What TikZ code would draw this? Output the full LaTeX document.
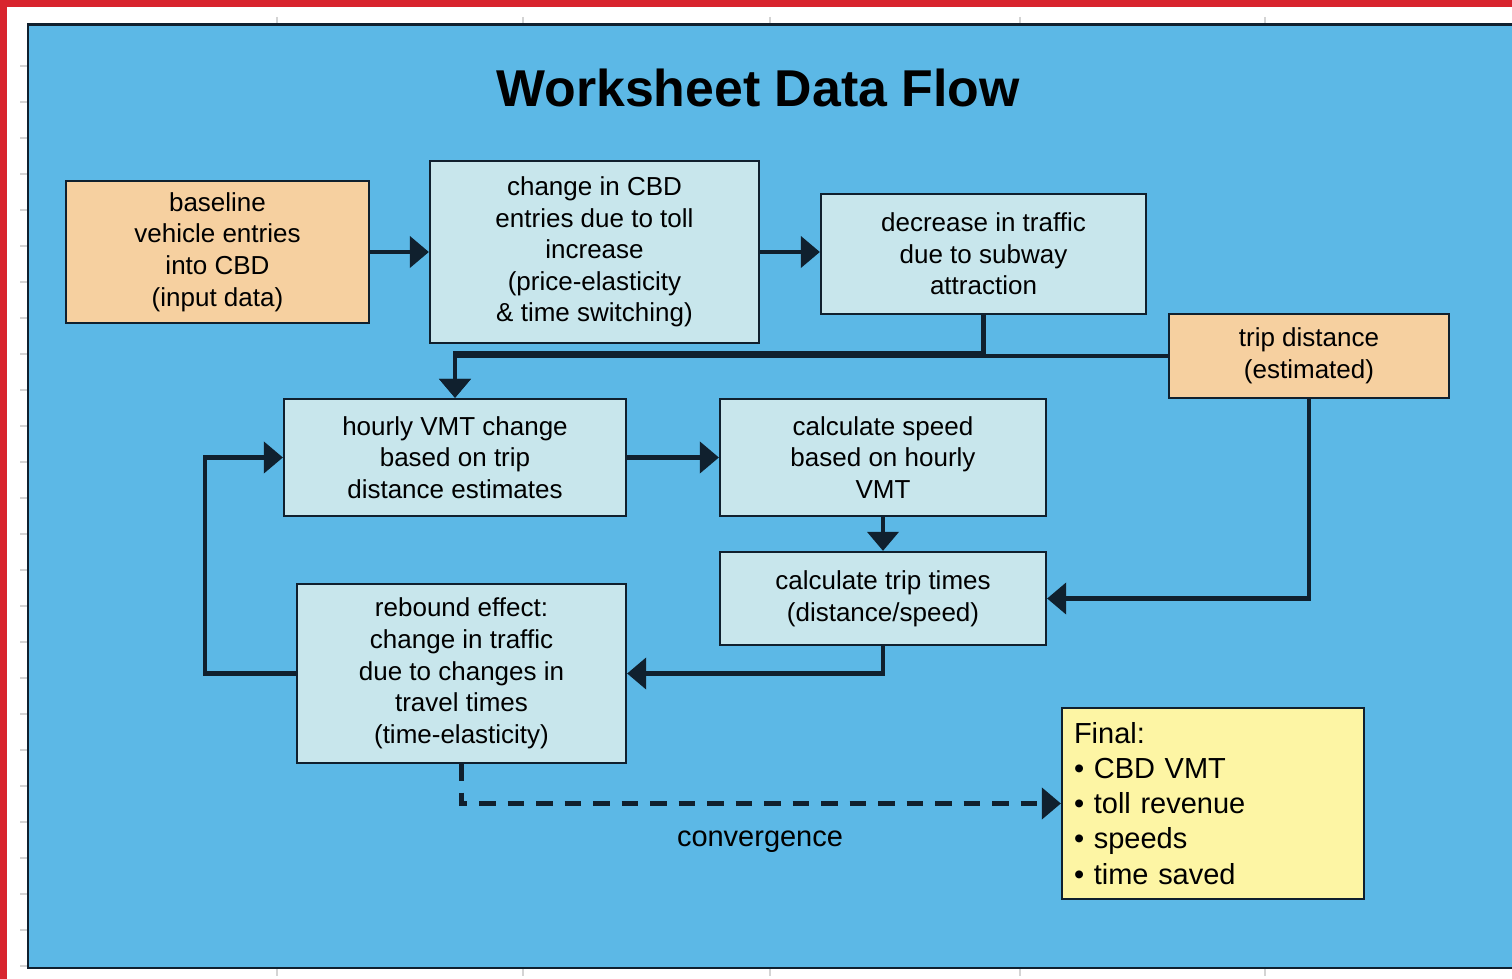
\documentclass[tikz,border=0pt]{standalone}
\usepackage{fontspec}
\setmainfont{Liberation Sans}
\usetikzlibrary{arrows.meta}

\definecolor{tlo}{HTML}{5CB8E6}
\definecolor{jasny}{HTML}{C8E6EC}
\definecolor{wejscie}{HTML}{F6D0A0}
\definecolor{wynik}{HTML}{FDF5A4}
\definecolor{ramka}{HTML}{10202E}
\definecolor{czerw}{HTML}{D8242E}
\definecolor{siatka}{HTML}{D4D4D4}

\begin{document}
\begin{tikzpicture}[
  x=0.02cm, y=-0.02cm,
  font=\fontsize{14.8}{18}\selectfont,
  blk/.style={draw=ramka, line width=1.3pt, fill=jasny, align=center, inner sep=0},
  inp/.style={blk, fill=wejscie},
  fin/.style={blk, fill=wynik, align=left, inner xsep=0.24cm,
    font=\fontsize{16.5}{20}\selectfont},
  pil/.style={draw=ramka, line width=2.3pt, -{Triangle[length=0.38cm, width=0.62cm]}},
  opis/.style={font=\fontsize{16.5}{20}\selectfont},
]
\useasboundingbox (0,0) rectangle (1512,979);
% tlo arkusza
\fill[white] (0,0) rectangle (1512,979);
\fill[czerw] (0,0) rectangle (1512,7);
\fill[czerw] (0,0) rectangle (7,979);
\foreach \yy in {66,102,...,966}
  \draw[siatka, line width=0.6pt] (20,\yy) -- (28,\yy);
\foreach \xx in {277,523,770,1020,1265} {
  \draw[siatka, line width=0.6pt] (\xx,17) -- (\xx,25);
  \draw[siatka, line width=0.6pt] (\xx,968) -- (\xx,976);
}
\fill[tlo] (28,25) rectangle (1512,968);
\draw[ramka, line width=1.7pt] (1513,25) -- (28,25) -- (28,968) -- (1513,968);

\node[font=\fontsize{29.5}{34}\selectfont\bfseries] (tytul) at (758,88) {Worksheet Data Flow};

% gorny rzad
\node[inp, minimum width=6.06cm, minimum height=2.84cm] (base) at (217.5,252)
  {baseline\\vehicle entries\\into CBD\\(input data)};
\node[blk, minimum width=6.58cm, minimum height=3.64cm] (chg) at (594.5,252)
  {change in CBD\\entries due to toll\\increase\\(price-elasticity\\\& time switching)};
\node[blk, minimum width=6.5cm, minimum height=2.4cm] (dec) at (983.5,254)
  {decrease in traffic\\due to subway\\attraction};
\node[inp, minimum width=5.6cm, minimum height=1.68cm] (trip) at (1309,356)
  {trip distance\\(estimated)};

% srodek
\node[blk, minimum width=6.84cm, minimum height=2.34cm] (hour) at (455,457.5)
  {hourly VMT change\\based on trip\\distance estimates};
\node[blk, minimum width=6.52cm, minimum height=2.34cm] (speed) at (883,457.5)
  {calculate speed\\based on hourly\\VMT};
\node[blk, minimum width=6.52cm, minimum height=1.86cm] (times) at (883,598.5)
  {calculate trip times\\(distance/speed)};
\node[blk, minimum width=6.58cm, minimum height=3.58cm] (reb) at (461.5,673.5)
  {rebound effect:\\change in traffic\\due to changes in\\travel times\\(time-elasticity)};

% wynik
\node[fin, text width=5.56cm, minimum height=3.82cm] (final) at (1213,803.5)
  {Final:\\\textbullet{} CBD VMT\\\textbullet{} toll revenue\\\textbullet{} speeds\\\textbullet{} time saved};
\node[opis] (conv) at (760,842) {convergence};

% polaczenia
\draw[pil] (base) -- (chg);
\draw[pil] (chg.east) -- (dec.west |- chg.east);
\coordinate (wezel) at (dec.south |- trip.west);
\draw[pil] (dec.south) -- ([yshift=0.06cm]wezel) -| (hour.north);
\draw[pil] (trip.west) -| (hour.north);
\draw[pil] (hour) -- (speed);
\draw[pil] (speed) -- (times);
\draw[pil] (trip.south) |- (times.east);
\draw[pil] (times.south) |- (reb.east);
\draw[pil] (reb.west) -- ++(-91,0) |- (hour.west);
\draw[pil, dash pattern=on 0.33cm off 0.24cm] (reb.south) |- (final.west);
\end{tikzpicture}
\end{document}
